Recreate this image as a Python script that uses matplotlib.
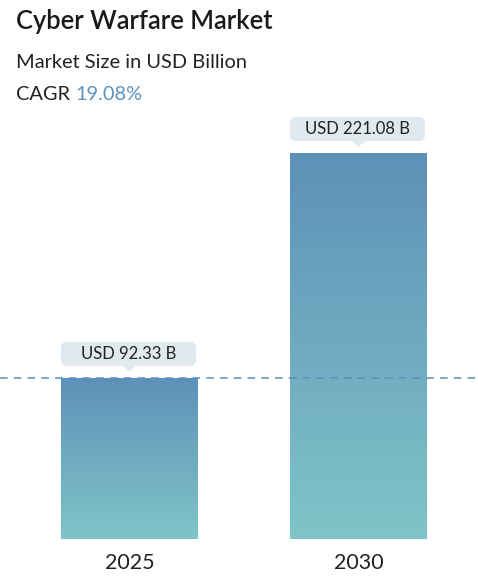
import numpy as np
import matplotlib
matplotlib.use("Agg")
import matplotlib.pyplot as plt
from matplotlib.colors import LinearSegmentedColormap
from matplotlib.patches import FancyBboxPatch, Polygon
from matplotlib.transforms import IdentityTransform

plt.rcParams['font.family'] = ['Lato', 'DejaVu Sans']

# data
years = ['2025', '2030']
values = [92.33, 221.08]
labels = ['USD 92.33 B', 'USD 221.08 B']
title = 'Cyber Warfare Market'
subtitle = 'Market Size in USD Billion'
cagr = '19.08%'

W, H = 478, 583
fig = plt.figure(figsize=(W / 100, H / 100), dpi=100)

# axes spans full width, baseline at 539px from the top
ax = fig.add_axes([0, 44 / H, 1, (539 - 100) / H])
gap = 229.0
bar_w = 137 / gap
ax.set_xlim(-129.5 / gap, 1 + (W - 358.5) / gap)
px_per_unit = 386 / values[1]
ax.set_ylim(0, (539 - 100) / px_per_unit)
ax.axis('off')

cmap = LinearSegmentedColormap.from_list('g', ['#80c4c8', '#5d91b8'])
grad = np.linspace(0, 1, 256).reshape(-1, 1)

xs = np.arange(len(values))
bars = ax.bar(xs, values, width=bar_w, color='none')
for b in bars:
    x0, y0 = b.get_x(), b.get_y()
    im = ax.imshow(grad, cmap=cmap, aspect='auto', origin='lower',
                   extent=[x0, x0 + b.get_width(), y0, y0 + b.get_height()],
                   zorder=2)
    im.set_clip_path(b)

ax.axhline(values[0], color='#5b8fc0', lw=1.1, ls=(0, (5, 4)), zorder=3)

for x, yr in zip(xs, years):
    ax.text(x, -8, yr, ha='center', va='top', fontsize=15.5, color='#222222')

fig.canvas.draw()
for x, v, lab in zip(xs, values, labels):
    px, py = ax.transData.transform((x, v))
    bw, bh = 135, 24
    box = FancyBboxPatch((px - bw / 2 - 1, py + 12), bw, bh,
                         boxstyle='round,pad=0,rounding_size=6',
                         fc='#dfe9ee', ec='none', transform=IdentityTransform())
    fig.patches.append(box)
    tri = Polygon([(px - 7, py + 12.5), (px + 7, py + 12.5), (px, py + 6)],
                  closed=True, fc='#dfe9ee', ec='none', transform=IdentityTransform())
    fig.patches.append(tri)
    fig.text((px - 1) / W, (py + 12 + bh / 2) / H, lab, ha='center', va='center',
             fontsize=12, color='#222222')

fig.text(16 / W, 1 - 22 / H, title, ha='left', va='center', fontsize=18.4,
         fontweight='semibold', color='#1a1a1a')
fig.text(16 / W, 1 - 62 / H, subtitle, ha='left', va='center', fontsize=14.4,
         color='#222222')
t = fig.text(16 / W, 1 - 94 / H, 'CAGR ', ha='left', va='center', fontsize=14.4,
             color='#222222')
fig.canvas.draw()
bb = t.get_window_extent()
fig.text(bb.x1 / W, 1 - 94 / H, cagr, ha='left', va='center', fontsize=14.4,
         color='#5b93c0')

fig.savefig('out.png', dpi=100)
